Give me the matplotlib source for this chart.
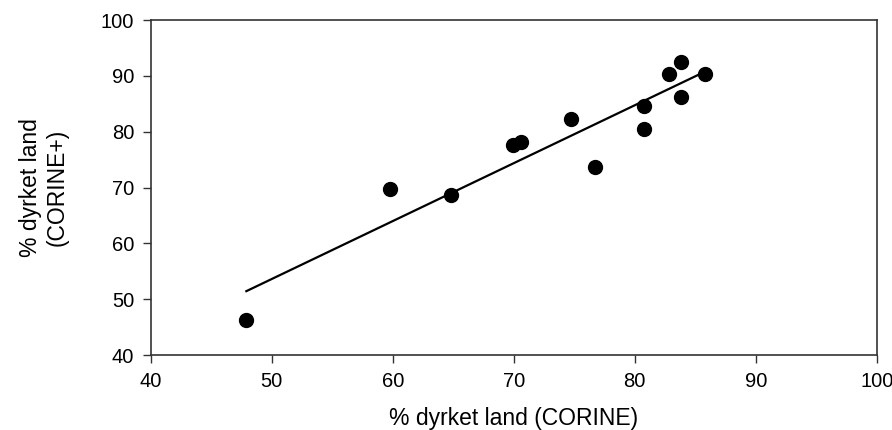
import numpy as np
import matplotlib
matplotlib.use("Agg")
import matplotlib.pyplot as plt

plt.rcParams['font.family'] = ['Liberation Sans', 'DejaVu Sans']

# % cultivated land per area, CORINE vs CORINE+
corine = [47.9, 59.8, 64.8, 69.9, 70.6, 74.7, 76.7, 80.8, 80.8, 82.8, 83.8, 83.8, 85.8]
corine_plus = [46.3, 69.7, 68.6, 77.7, 78.2, 82.3, 73.7, 84.6, 80.5, 90.3, 92.5, 86.2, 90.3]

x = np.array(corine)
y = np.array(corine_plus)
slope, intercept = np.polyfit(x, y, 1)
xfit = np.array([x.min(), x.max()])

fig = plt.figure(figsize=(8.92, 4.3), dpi=100)
ax = fig.add_axes([0.169, 0.1744, 0.814, 0.779])

ax.plot(xfit, slope * xfit + intercept, color='black', lw=1.6, zorder=2)
ax.scatter(x, y, s=100, color='black', zorder=3)

ax.set_xlim(40, 100)
ax.set_ylim(40, 100)
ax.set_xticks(range(40, 101, 10))
ax.set_yticks(range(40, 101, 10))
ax.tick_params(direction='out', length=6, width=1, color='#333333',
               labelsize=14.5, pad=6)
for sp in ax.spines.values():
    sp.set_color('#333333')
    sp.set_linewidth(1.2)

ax.set_xlabel("% dyrket land (CORINE)", fontsize=16.5, labelpad=12)
ax.set_ylabel("% dyrket land\n(CORINE+)", fontsize=16.5, labelpad=23)

fig.savefig("out.png", dpi=100)
